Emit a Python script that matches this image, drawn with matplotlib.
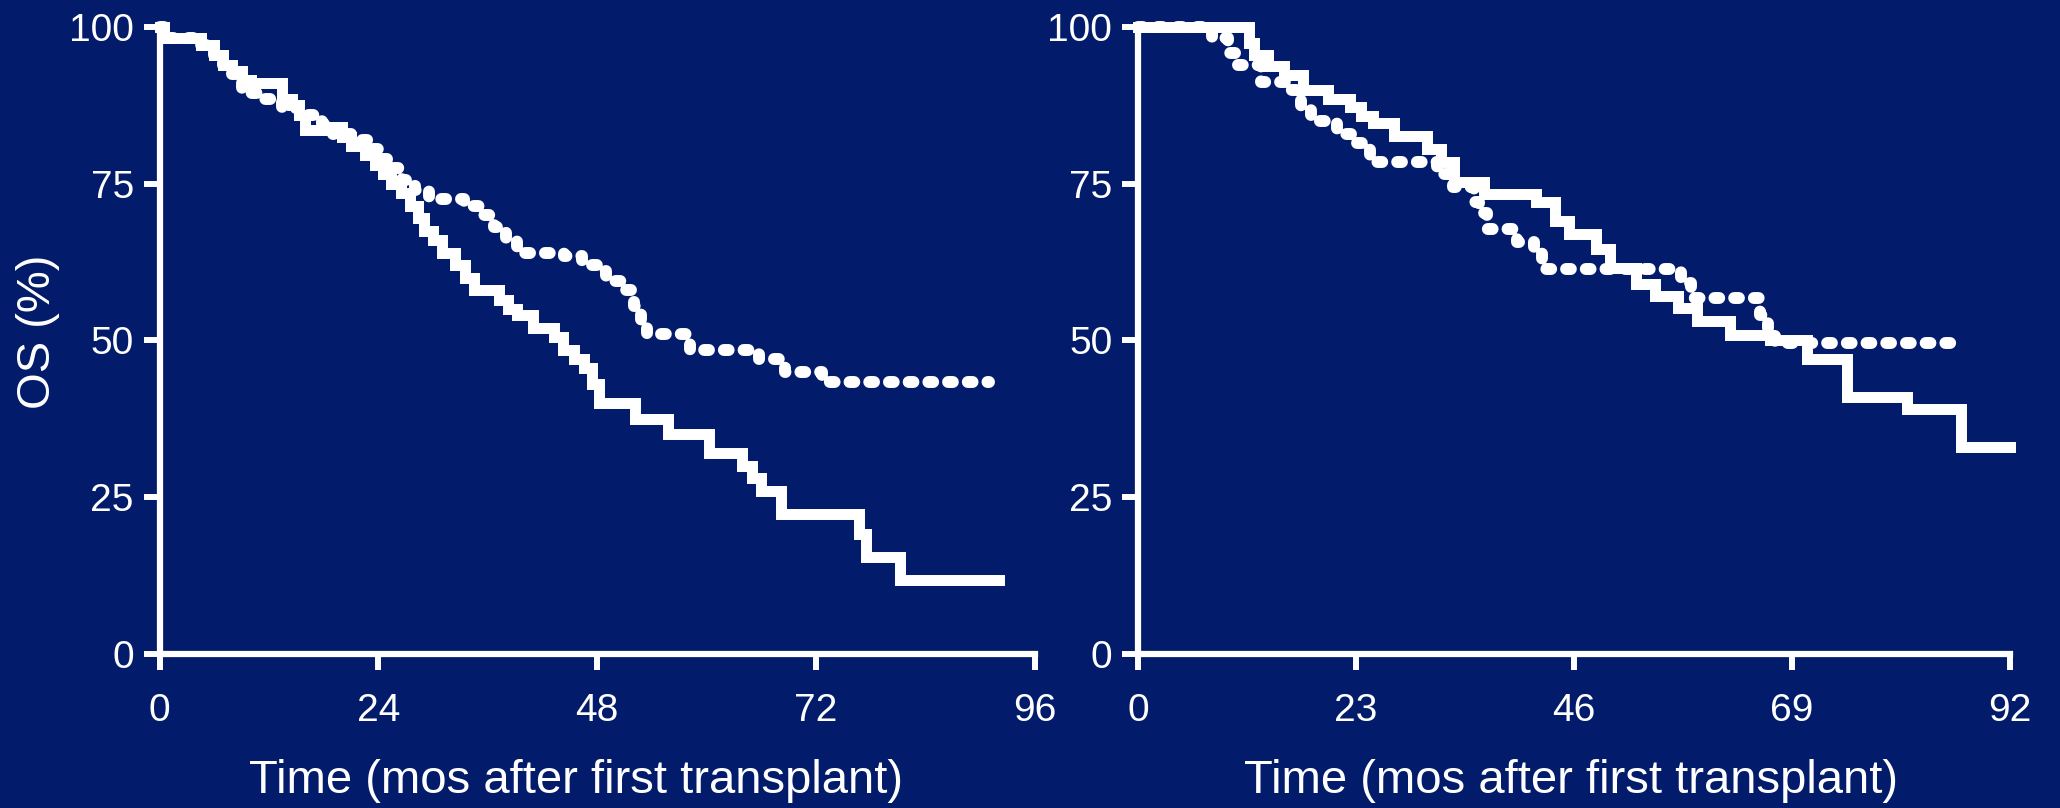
import numpy as np
import matplotlib.pyplot as plt

# Kaplan-Meier step points (months, OS %)
left_t_solid = [0, 0.5, 4.6, 6, 7, 8, 9, 10, 13.4, 14.5, 15.3, 16, 18.6, 20, 21, 22.5, 23.6, 24.5,
                25.4, 26.5, 27.5, 28.3, 29, 30, 31, 32.4, 33.5, 34.5, 37.2, 38.2, 39.2, 41, 43.3,
                44.2, 45.5, 46.5, 47.4, 48.2, 52.1, 55.8, 60.2, 63.9, 65, 66, 68.2, 76.7, 77.5,
                81.2, 92]
left_os_solid = [100, 98.3, 97.1, 95.5, 94, 93, 91.5, 91, 88.5, 87.5, 86, 83.5, 84, 82.5, 81, 79.5,
                 78, 76.5, 75, 73.5, 71.5, 69.5, 67.5, 66, 64, 62, 60, 58, 56.5, 55, 54, 52, 50.5,
                 48.5, 47, 45.5, 43, 40, 37.5, 35, 32, 30, 28, 26, 22.3, 19, 15.4, 11.8, 11.8]

left_t_dot = [0, 0.5, 4.6, 6, 7, 8, 9, 11.5, 13.4, 15.3, 17.8, 19, 21, 23, 24, 25, 26.6, 28, 29.5,
              33.4, 35, 36.7, 38, 39.2, 44.4, 46.3, 48, 49, 51.2, 52, 52.8, 53.5, 58.2, 65.7,
              68.6, 72.6, 91]
left_os_dot = [100, 98.3, 97.1, 95.5, 94, 92.5, 89.5, 88.5, 87, 86, 84.5, 83, 82, 80.5, 79, 77.5,
               75.5, 74, 72.5, 71.5, 70, 68, 66, 64, 63.5, 62, 61, 59.5, 58, 55.5, 53, 51, 48.5,
               47, 45, 43.3, 43.3]

right_t_solid = [0, 11.7, 12.2, 13.7, 15.4, 17.4, 20, 22.4, 23.5, 24.8, 27, 30.5, 32, 33.3, 36.5,
                 42, 44, 45.5, 48.3, 49.8, 52.5, 54.5, 57, 59, 62.5, 66.7, 70.6, 74.8, 81.1, 86.8,
                 92]
right_os_solid = [100, 97.5, 95.5, 93.8, 92.3, 90, 88.5, 87.2, 85.8, 84.6, 82.6, 80.5, 78.5, 75.3,
                  73.3, 72, 69, 67, 64.5, 61.5, 59, 57, 55.2, 53, 50.8, 50, 47, 41, 39, 33, 33]

right_t_dot = [0, 7.8, 9.5, 10.5, 13, 15.5, 17.2, 18.2, 21, 22.5, 24.5, 31.5, 33.2, 35.4, 36,
               36.8, 40, 41.8, 42.6, 57.3, 58.3, 65.6, 66.5, 67.2, 86]
right_os_dot = [100, 98.2, 95.8, 93.9, 91.2, 90, 87, 85, 83, 81.5, 78.5, 76.5, 74.5, 72, 70.3,
                67.8, 65.7, 64, 61.3, 59.2, 56.8, 54, 51.5, 49.5, 49.5]

left_xticks = [0, 24, 48, 72, 96]
right_xticks = [0, 23, 46, 69, 92]
yticks = [0, 25, 50, 75, 100]

navy = '#021c6b'
plt.rcParams['font.family'] = ['Liberation Sans', 'DejaVu Sans']

W, H = 2060, 808
fig = plt.figure(figsize=(W / 100, H / 100), dpi=100, facecolor=navy)


def draw_panel(x0, x1, t_solid, os_solid, t_dot, os_dot, xticks):
    y0, y1 = 653.5, 27
    ax = fig.add_axes([x0 / W, 1 - y0 / H, (x1 - x0) / W, (y0 - y1) / H], facecolor=navy)
    ax.plot(t_solid, os_solid, drawstyle='steps-post', color='white', lw=7.9,
            solid_joinstyle='miter', clip_on=False)
    ax.plot(t_dot, os_dot, drawstyle='steps-post', color='white', lw=8.6,
            linestyle=(0, (0.4, 1.25)), dash_capstyle='round', clip_on=False)
    ax.set_xlim(xticks[0], xticks[-1])
    ax.set_ylim(0, 100)
    ax.set_xticks(xticks)
    ax.set_yticks(yticks)
    for side in ['top', 'right']:
        ax.spines[side].set_visible(False)
    for side in ['left', 'bottom']:
        ax.spines[side].set_color('white')
        ax.spines[side].set_linewidth(4.5)
    ax.tick_params(axis='both', colors='white', width=4.3, length=11.5, labelsize=28)
    ax.tick_params(axis='x', pad=17)
    ax.tick_params(axis='y', pad=7)
    return ax


ax1 = draw_panel(159.5, 1035, left_t_solid, left_os_solid, left_t_dot, left_os_dot,
                 left_xticks)
ax2 = draw_panel(1138, 2010, right_t_solid, right_os_solid, right_t_dot, right_os_dot,
                 right_xticks)

fig.text(38.5 / W, 1 - 332 / H, 'OS (%)', rotation=90, ha='center', va='center',
         color='white', fontsize=34)
fig.text(576 / W, 1 - 793 / H, 'Time (mos after first transplant)', ha='center',
         va='baseline', color='white', fontsize=34)
fig.text(1571 / W, 1 - 793 / H, 'Time (mos after first transplant)', ha='center',
         va='baseline', color='white', fontsize=34)

fig.savefig('out.png', dpi=100, facecolor=navy)
